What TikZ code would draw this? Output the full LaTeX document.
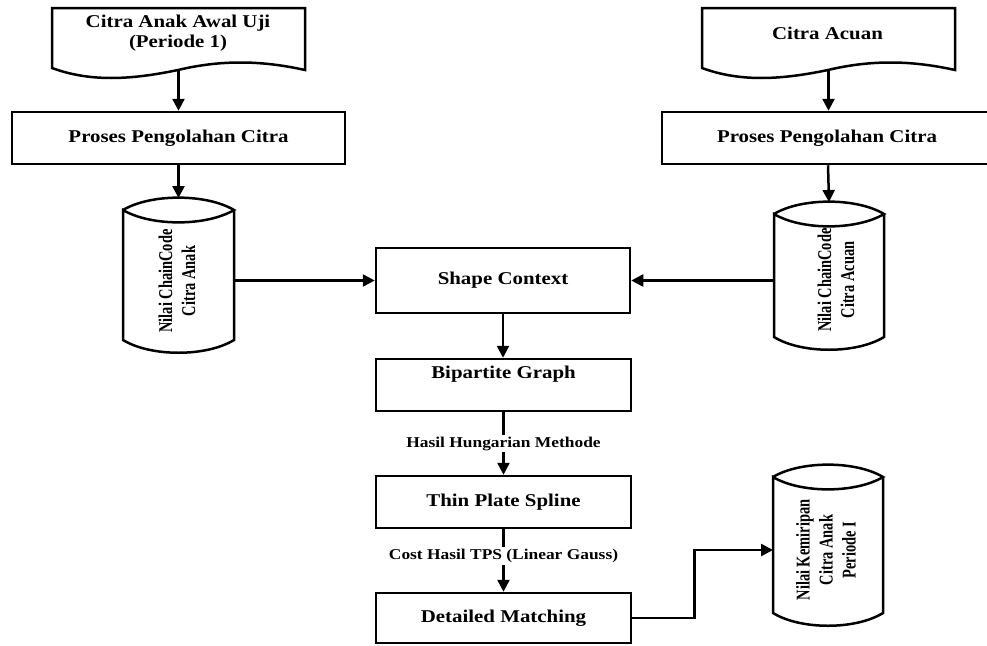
\documentclass[tikz,border=0pt]{standalone}
\usepackage{fontspec}
\setmainfont{Liberation Serif}
\usepackage{graphicx}
\usetikzlibrary{arrows.meta}
\tikzset{
  outline/.style={draw=black, line width=2.5pt, line join=miter},
  procbox/.style={outline, rectangle, inner sep=0pt, minimum height=52pt},
  boxfont/.style={font=\fontsize{18}{20}\selectfont\bfseries, inner sep=0pt},
  conn/.style={line width=2.5pt, -{Triangle[length=12pt,width=12pt]}},
  lbl/.style={fill=white, inner sep=2pt, font=\fontsize{15}{17}\selectfont\bfseries},
  cyltext/.style={rotate=90, inner sep=0pt, font=\fontsize{19.5}{23}\selectfont\bfseries},
  ghost/.style={inner sep=0pt, outer sep=0pt, rectangle},
}
\newcommand{\wide}[1]{\scalebox{1.16}[1]{#1}}
\newcommand{\narrowtxt}[1]{\scalebox{0.74}[1]{\begin{tabular}{@{}c@{}}#1\end{tabular}}}
% cylinder outline: xl, xr, ytop, ybot
\newcommand{\cylpath}[4]{%
  \draw[outline] (#1,#3) .. controls ({#1+(#2-#1)/4},#3-16.5) and ({#2-(#2-#1)/4},#3-16.5) .. (#2,#3)
    .. controls ({#2-(#2-#1)/4},#3+16.5) and ({#1+(#2-#1)/4},#3+16.5) .. (#1,#3)
    -- (#1,#4) .. controls ({#1+(#2-#1)/4},#4+17) and ({#2-(#2-#1)/4},#4+17) .. (#2,#4) -- (#2,#3);}
% document outline: xl
\newcommand{\docpath}[1]{%
  \draw[outline] (#1,68) -- (#1,8) -- ({#1+253},8) -- ({#1+253},70)
    .. controls ({#1+208},60) and ({#1+168},60) .. ({#1+126},70)
    .. controls ({#1+78},80) and ({#1+38},82) .. (#1,68) -- cycle;}
\begin{document}
\begin{tikzpicture}[x=1pt, y=-1pt]
\useasboundingbox (0,0) rectangle (987,645);
\clip (0,0) rectangle (987,645);
\fill[white] (0,0) rectangle (987,645);

% documents
\docpath{52}
\docpath{702}
\node[ghost, minimum width=253pt, minimum height=62pt] (docA) at (178.5,39) {};
\node[ghost, minimum width=253pt, minimum height=62pt] (docB) at (828.5,39) {};
\node[boxfont] (docAtext) at (178,33.5) {\wide{\begin{tabular}{@{}c@{}}Citra Anak Awal Uji\\(Periode 1)\end{tabular}}};
\node[boxfont] (docBtext) at (827.5,33) {\wide{Citra Acuan}};

% process boxes
\node[procbox, minimum width=333pt] (pA) at (178.5,138) {};
\node[boxfont] (pAtext) at (178.5,138) {\wide{Proses Pengolahan Citra}};
\node[procbox, minimum width=332pt] (pB) at (828,138) {};
\node[boxfont] (pBtext) at (827,138) {\wide{Proses Pengolahan Citra}};

% cylinders
\cylpath{123}{234}{210}{340}
\cylpath{774}{884}{214}{337}
\cylpath{773}{883}{477}{613}
\node[ghost, minimum width=111pt, minimum height=130pt] (cylA) at (178.5,275) {};
\node[ghost, minimum width=110pt, minimum height=123pt] (cylB) at (829,275.5) {};
\node[ghost, minimum width=110pt, minimum height=136pt] (cylC) at (828,545) {};
\coordinate (cylAtop) at (178.5,198);
\coordinate (cylBtop) at (829,202);
\coordinate (cylCin) at (773,550);
\node[cyltext] (cylAtext) at (179,281) {\narrowtxt{Nilai ChainCode\\Citra Anak}};
\node[cyltext] (cylBtext) at (838,280) {\narrowtxt{Nilai ChainCode\\Citra Acuan}};
\node[cyltext] (cylCtext) at (828,550) {\narrowtxt{Nilai Kemiripan\\Citra Anak\\Periode I}};

% central boxes
\node[procbox, minimum width=254pt, minimum height=65pt] (sc) at (503,280.5) {};
\node[boxfont] (sctext) at (503,280.5) {\wide{Shape Context}};
\node[procbox, minimum width=255pt] (bg) at (503.5,385) {};
\node[boxfont] (bgtext) at (503.5,374) {\wide{Bipartite Graph}};
\node[procbox, minimum width=255pt] (tps) at (503.5,502) {};
\node[boxfont] (tpstext) at (503.5,502) {\wide{Thin Plate Spline}};
\node[procbox, minimum width=255pt, minimum height=50pt] (dm) at (503.5,618) {};
\node[boxfont] (dmtext) at (503.5,618.5) {\wide{Detailed Matching}};

% connectors
\draw[conn] (docA.south) -- (pA.north);
\draw[conn] (docB.south) -- (docB.south |- pB.north);
\draw[conn] (pA.south) -- (cylAtop);
\draw[conn] (pB.south) -- (cylBtop);
\draw[conn] (sc.west -| cylA.east) -- (sc.west);
\draw[conn] (sc.east -| cylB.west) -- (sc.east);
\draw[conn] (sc.south) -- (sc.south |- bg.north);
\draw[conn] (bg.south) -- node[lbl, pos=0.5] (lblA) {\wide{Hasil Hungarian Methode}} (tps.north);
\draw[conn] (tps.south) -- node[lbl, pos=0.43] (lblB) {\wide{Cost Hasil TPS (Linear Gauss)}} (dm.north);
\draw[conn] (dm.east) -- ++(62,0) |- (cylCin);
\end{tikzpicture}
\end{document}
